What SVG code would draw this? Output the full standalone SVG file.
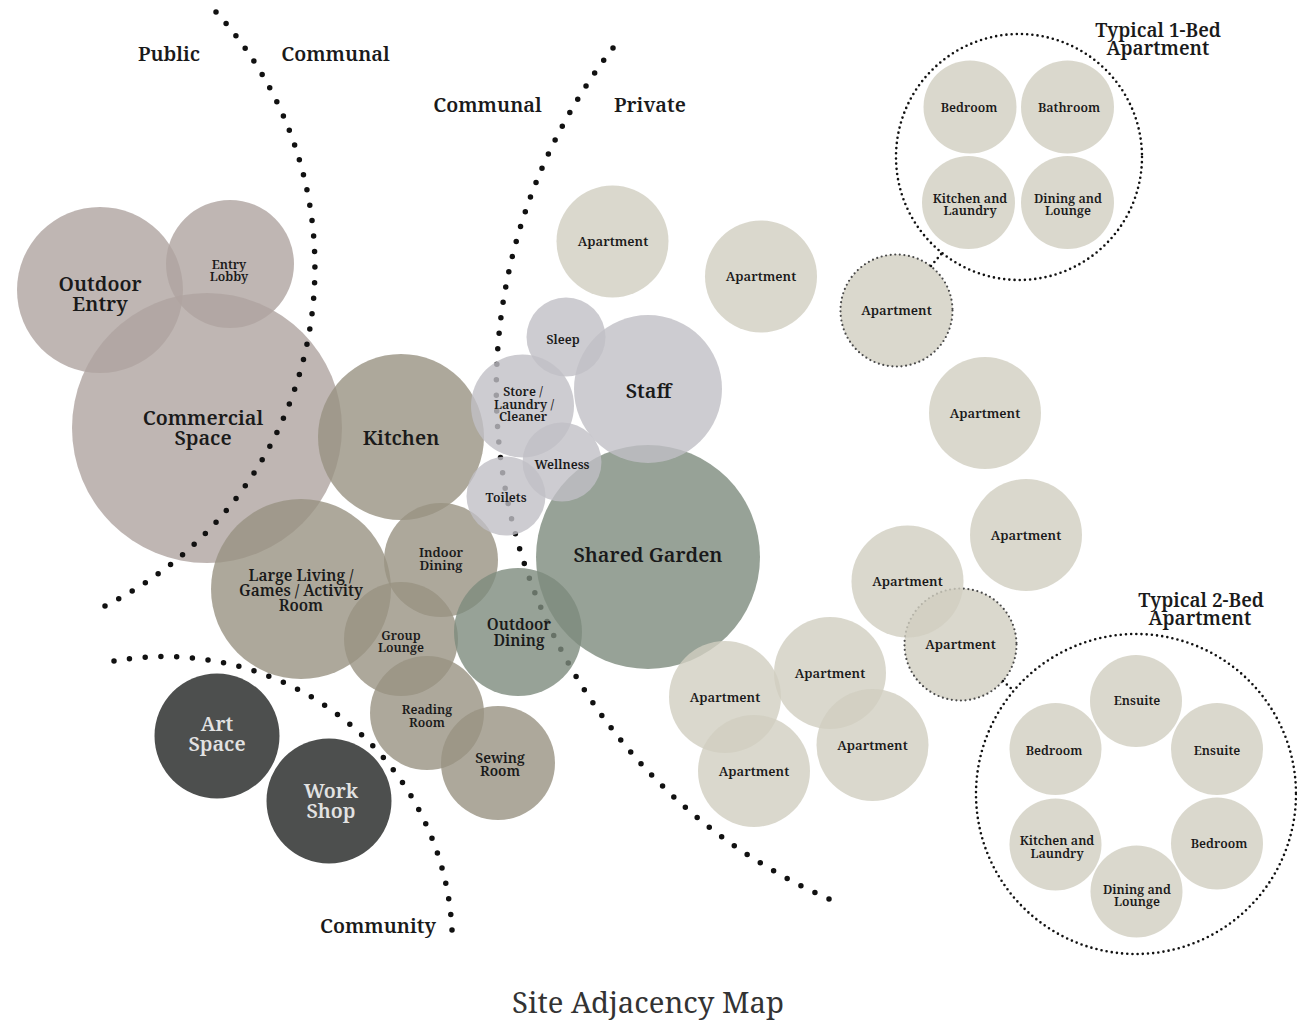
<svg xmlns="http://www.w3.org/2000/svg" width="1297" height="1021" viewBox="0 0 1297 1021">
<defs>
<style>
text{font-family:"Noto Serif","DejaVu Serif","Liberation Serif",serif;fill:#1a1a1a;text-anchor:middle;font-weight:600}
.zone{font-size:20px}
.big{font-size:20px}
.mid{font-size:15.5px}
.sm{font-size:12.5px}
.apt-t{font-size:13px}
.ttl{font-size:19px}
.light{fill:#e2e2e2}
.mauve{fill:#afa4a0;fill-opacity:.8}
.taupe{fill:#999282;fill-opacity:.8}
.green{fill:#7d8b7d;fill-opacity:.8}
.grey{fill:#c1bfc6;fill-opacity:.8}
.apt{fill:#d1cec0;fill-opacity:.8}
.dark{fill:#4d4f4e}
.aptring{stroke:#4a4a4a;stroke-width:2.2;stroke-linecap:round;stroke-dasharray:0 4.6}
.zline{fill:none;stroke:#111;stroke-width:5.5;stroke-linecap:round;stroke-dasharray:0 1}
.ring{fill:none;stroke:#111;stroke-width:2.6;stroke-linecap:round;stroke-dasharray:0 5.2}
.title{font-size:29.3px;fill:#333;font-weight:400}
</style>
</defs>
<rect width="1297" height="1021" fill="#fff"/>

<g id="zone-communal-private">
<path class="zline" pathLength="65" d="M 613 48 A 557 557 0 0 0 829 899"/>
</g>

<g id="node-outdoor-entry"><circle class="mauve" cx="100" cy="290" r="83"/></g>
<g id="node-entry-lobby"><circle class="mauve" cx="230" cy="264" r="64"/></g>
<g id="node-commercial-space"><circle class="mauve" cx="207" cy="428" r="135"/></g>
<g id="node-kitchen"><circle class="taupe" cx="401" cy="437" r="83"/></g>
<g id="node-large-living"><circle class="taupe" cx="301" cy="589" r="90"/></g>
<g id="node-indoor-dining"><circle class="taupe" cx="441" cy="560" r="57"/></g>
<g id="node-group-lounge"><circle class="taupe" cx="401" cy="639" r="57"/></g>
<g id="node-reading-room"><circle class="taupe" cx="427" cy="713" r="57"/></g>
<g id="node-sewing-room"><circle class="taupe" cx="498" cy="763" r="57"/></g>
<g id="node-outdoor-dining"><circle class="green" cx="518" cy="632" r="64"/></g>
<g id="node-shared-garden"><circle class="green" cx="648" cy="557" r="112"/></g>
<g id="node-staff"><circle class="grey" cx="648" cy="389" r="74"/></g>
<g id="node-sleep"><circle class="grey" cx="566" cy="337" r="39.5"/></g>
<g id="node-store"><circle class="grey" cx="522.5" cy="406" r="51.5"/></g>
<g id="node-wellness"><circle class="grey" cx="562" cy="462" r="39.5"/></g>
<g id="node-toilets"><circle class="grey" cx="506" cy="496" r="39.5"/></g>
<g id="node-art-space"><circle class="dark" cx="217" cy="736" r="62.5"/></g>
<g id="node-work-shop"><circle class="dark" cx="329" cy="801" r="62.5"/></g>

<g id="node-apt-1"><circle class="apt" cx="612.5" cy="241.5" r="56"/></g>
<g id="node-apt-2"><circle class="apt" cx="761" cy="276.5" r="56"/></g>
<g id="node-apt-3"><circle class="apt aptring" cx="896.5" cy="310.5" r="56"/></g>
<g id="node-apt-4"><circle class="apt" cx="985" cy="413" r="56"/></g>
<g id="node-apt-5"><circle class="apt" cx="1026" cy="535" r="56"/></g>
<g id="node-apt-7"><circle class="apt aptring" cx="960.5" cy="644.5" r="56"/></g>
<g id="node-apt-6"><circle class="apt" cx="907.5" cy="581.5" r="56"/></g>
<g id="node-apt-8"><circle class="apt" cx="830" cy="673" r="56"/></g>
<g id="node-apt-9"><circle class="apt" cx="725" cy="697" r="56"/></g>
<g id="node-apt-10"><circle class="apt" cx="872.5" cy="745" r="56"/></g>
<g id="node-apt-11"><circle class="apt" cx="754" cy="771" r="56"/></g>

<g id="zones-top">
<path class="zline" pathLength="45" d="M 216 12 A 378.5 378.5 0 0 1 105 606"/>
<path class="zline" pathLength="31" d="M 114 661 A 288 288 0 0 1 452 930"/>
</g>

<g id="connectors">
<line class="ring" x1="931" y1="266" x2="943" y2="252"/>
<line class="ring" x1="1003" y1="681" x2="1014" y2="691"/>
</g>

<g id="node-typical-1bed">
<circle class="ring" cx="1019" cy="157" r="123"/>
<circle class="apt" cx="970" cy="107" r="46.5"/>
<circle class="apt" cx="1067.5" cy="107" r="46.5"/>
<circle class="apt" cx="968.5" cy="202.5" r="46.5"/>
<circle class="apt" cx="1067.5" cy="202.5" r="46.5"/>
<text class="sm" x="969" y="112">Bedroom</text>
<text class="sm" x="1069" y="112">Bathroom</text>
<text class="sm" x="970" y="203">Kitchen and</text>
<text class="sm" x="970" y="215">Laundry</text>
<text class="sm" x="1068" y="203">Dining and</text>
<text class="sm" x="1068" y="215">Lounge</text>
<text class="ttl" x="1158" y="37">Typical 1-Bed</text>
<text class="ttl" x="1158" y="55">Apartment</text>
</g>

<g id="node-typical-2bed">
<circle class="ring" cx="1136" cy="794" r="160"/>
<circle class="apt" cx="1136" cy="701" r="46"/>
<circle class="apt" cx="1055.5" cy="749" r="46"/>
<circle class="apt" cx="1217" cy="749" r="46"/>
<circle class="apt" cx="1055.5" cy="844.5" r="46"/>
<circle class="apt" cx="1217" cy="843.5" r="46"/>
<circle class="apt" cx="1136.5" cy="891.5" r="46"/>
<text class="sm" x="1137" y="705">Ensuite</text>
<text class="sm" x="1054" y="755">Bedroom</text>
<text class="sm" x="1217" y="755">Ensuite</text>
<text class="sm" x="1057" y="845">Kitchen and</text>
<text class="sm" x="1057" y="858">Laundry</text>
<text class="sm" x="1219" y="848">Bedroom</text>
<text class="sm" x="1137" y="894">Dining and</text>
<text class="sm" x="1137" y="906">Lounge</text>
<text class="ttl" x="1201" y="607">Typical 2-Bed</text>
<text class="ttl" x="1200" y="625">Apartment</text>
</g>

<g id="labels">
<text class="big" x="100" y="291">Outdoor</text>
<text class="big" x="100" y="311">Entry</text>
<text class="sm" x="229" y="269">Entry</text>
<text class="sm" x="229" y="281">Lobby</text>
<text class="big" x="203" y="425">Commercial</text>
<text class="big" x="203" y="445">Space</text>
<text class="big" x="401" y="445">Kitchen</text>
<text class="mid" x="301" y="581">Large Living /</text>
<text class="mid" x="301" y="596">Games / Activity</text>
<text class="mid" x="301" y="611">Room</text>
<text style="font-size:13px" x="441" y="557">Indoor</text>
<text style="font-size:13px" x="441" y="570">Dining</text>
<text class="sm" x="401" y="640">Group</text>
<text class="sm" x="401" y="652">Lounge</text>
<text class="mid" x="519" y="630">Outdoor</text>
<text class="mid" x="519" y="646">Dining</text>
<text class="sm" x="427" y="714">Reading</text>
<text class="sm" x="427" y="727">Room</text>
<text style="font-size:14px" x="500" y="763">Sewing</text>
<text style="font-size:14px" x="500" y="776">Room</text>
<text class="big light" x="217" y="731">Art</text>
<text class="big light" x="217" y="751">Space</text>
<text class="big light" x="331" y="798">Work</text>
<text class="big light" x="331" y="818">Shop</text>
<text class="big" x="648.5" y="397.5">Staff</text>
<text class="big" x="648" y="562">Shared Garden</text>
<text class="sm" x="563" y="344">Sleep</text>
<text class="sm" x="523" y="396">Store /</text>
<text class="sm" x="524" y="408.5">Laundry /</text>
<text class="sm" x="523" y="421">Cleaner</text>
<text class="sm" x="562" y="469">Wellness</text>
<text class="sm" x="506" y="502">Toilets</text>
<text class="apt-t" x="613" y="246">Apartment</text>
<text class="apt-t" x="761" y="281">Apartment</text>
<text class="apt-t" x="896.5" y="315">Apartment</text>
<text class="apt-t" x="985" y="417.5">Apartment</text>
<text class="apt-t" x="1026" y="540">Apartment</text>
<text class="apt-t" x="907.5" y="586">Apartment</text>
<text class="apt-t" x="960.5" y="649">Apartment</text>
<text class="apt-t" x="830" y="677.5">Apartment</text>
<text class="apt-t" x="725" y="701.5">Apartment</text>
<text class="apt-t" x="872.5" y="749.5">Apartment</text>
<text class="apt-t" x="754" y="775.5">Apartment</text>
</g>

<g id="zone-labels">
<text class="zone" x="169" y="61">Public</text>
<text class="zone" x="335.5" y="61">Communal</text>
<text class="zone" x="487.5" y="112">Communal</text>
<text class="zone" x="650" y="112">Private</text>
<text class="zone" x="378" y="933">Community</text>
<text class="title" x="648" y="1013">Site Adjacency Map</text>
</g>
</svg>
